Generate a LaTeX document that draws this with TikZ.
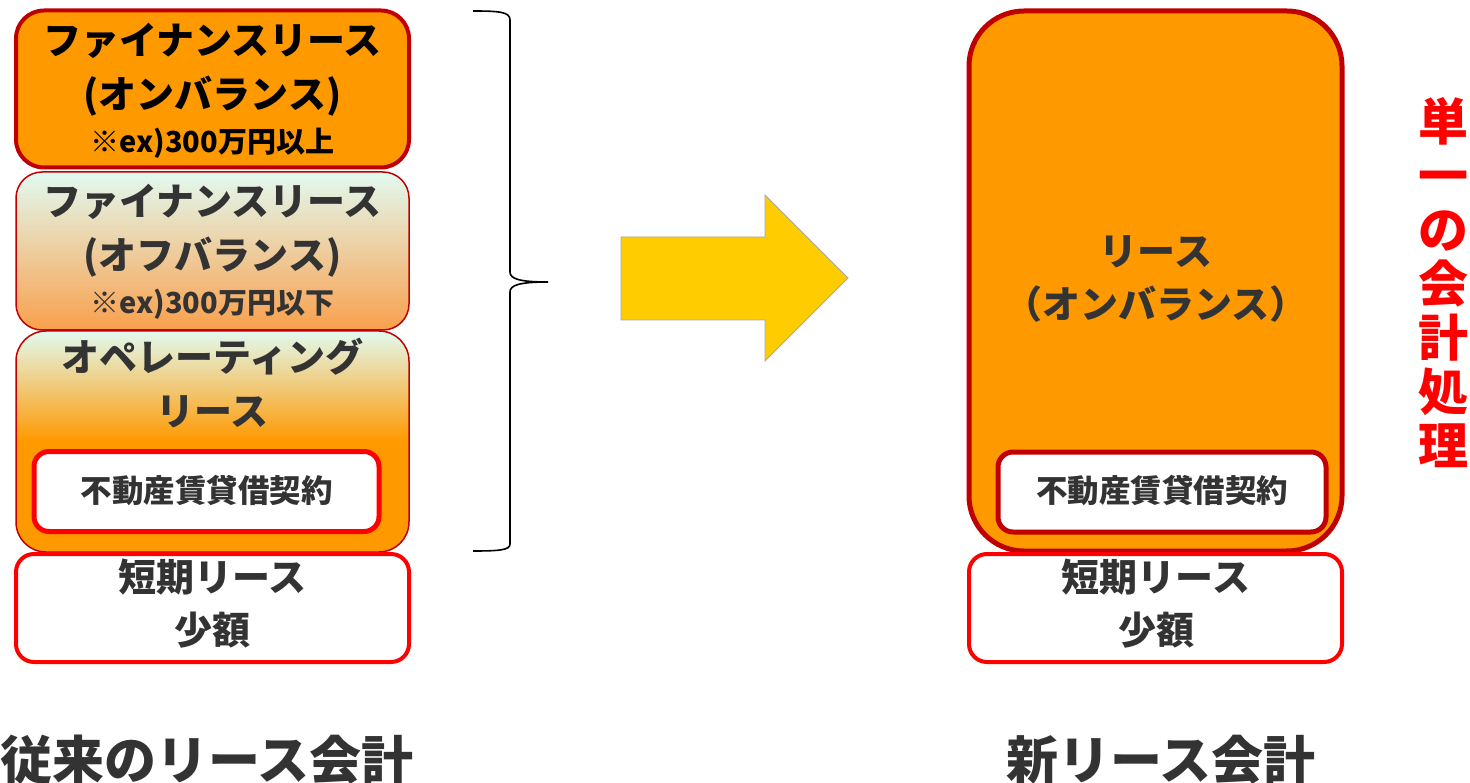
\documentclass[tikz,border=0pt]{standalone}
\usepackage{fontspec}
\setmainfont{Noto Sans CJK JP}
\definecolor{lorange}{HTML}{FF9900}
\definecolor{dred}{HTML}{C00000}
\definecolor{bred}{HTML}{FF0000}
\definecolor{mint}{HTML}{E2FAF0}
\definecolor{peach}{HTML}{F9A04C}
\definecolor{txt}{HTML}{333333}
\definecolor{arrowy}{HTML}{FFCC00}
\begin{document}
\begin{tikzpicture}[x=1pt,y=-1pt,
  box/.style={inner sep=0pt, outer sep=0pt},
  big/.style={anchor=base, inner sep=0pt, text=txt, font=\bfseries\fontsize{38}{38}\selectfont},
  small/.style={anchor=base, inner sep=0pt, text=txt, font=\bfseries\fontsize{29}{29}\selectfont},
  inner/.style={anchor=base, inner sep=0pt, text=txt, font=\bfseries\fontsize{31.5}{31.5}\selectfont},
  title/.style={anchor=base, inner sep=0pt, text=txt, font=\bfseries\fontsize{52}{52}\selectfont}]
\useasboundingbox (0,0) rectangle (1470,783);
% left column
\node[box, draw=dred, line width=4pt, fill=lorange, rounded corners=28pt,
      minimum width=393pt, minimum height=157pt] (fin1) at (212.5,89) {};
\node[box, draw=dred, line width=1.5pt, rounded corners=26pt, top color=mint, bottom color=peach,
      minimum width=393pt, minimum height=158pt] (fin2) at (212.5,251) {};
\node[box, draw=dred, line width=1.5pt, rounded corners=30pt, top color=mint, bottom color=lorange, middle color=lorange,
      minimum width=393pt, minimum height=221pt] (ope) at (212.5,441.5) {};
\node[box, draw=bred, line width=5pt, fill=white, rounded corners=15pt,
      minimum width=345pt, minimum height=80pt] (re1) at (206.5,491.5) {};
\node[box, draw=bred, line width=4pt, fill=white, rounded corners=18pt,
      minimum width=393pt, minimum height=108pt] (short1) at (212.5,608) {};
\node[big, text=black] (t11) at (212.5,55) {ファイナンスリース};
\node[big, text=black] (t12) at (212.5,109) {(オンバランス)};
\node[small, text=black] (t13) at (212.5,153) {※ex)300万円以上};
\node[big] (t21) at (212.5,216) {ファイナンスリース};
\node[big] (t22) at (212.5,270) {(オフバランス)};
\node[small] (t23) at (212.5,314) {※ex)300万円以下};
\node[big] (t31) at (212.5,372) {オペレーティング};
\node[big] (t32) at (212.5,426) {リース};
\node[inner] (t41) at (206.5,502) {不動産賃貸借契約};
\node[big] (t51) at (212.5,591) {短期リース};
\node[big] (t52) at (212.5,644) {少額};
% brace
\draw[line width=1.6pt] (473,11) .. controls (500,11) and (510,12) .. (510,20) -- (510,272)
  .. controls (510,279) and (520,282) .. (548,282)
  .. controls (520,282) and (510,285) .. (510,292) -- (510,544)
  .. controls (510,550) and (500,551) .. (473,551);
% arrow
\draw[fill=arrowy, draw=black!35, line width=0.8pt] (621,237) -- (765,237) -- (765,195) -- (848,278)
  -- (765,361) -- (765,320) -- (621,320) -- cycle;
% right column
\node[box, draw=dred, line width=5pt, fill=lorange, rounded corners=55pt,
      minimum width=373pt, minimum height=540pt] (newl) at (1155.5,281) {};
\node[box, draw=dred, line width=5pt, fill=white, rounded corners=15pt,
      minimum width=328pt, minimum height=80pt] (re2) at (1162,492) {};
\node[box, draw=bred, line width=4pt, fill=white, rounded corners=18pt,
      minimum width=373pt, minimum height=108pt] (short2) at (1155.5,608) {};
\node[big] (r11) at (1156,266) {リース};
\node[big] (r12) at (1156,319) {（オンバランス）};
\node[inner] (r21) at (1162,502) {不動産賃貸借契約};
\node[big] (r31) at (1156,591) {短期リース};
\node[big] (r32) at (1156,644) {少額};
% vertical text
\node[inner sep=0pt, text=bred, align=center, font=\bfseries\fontsize{50}{54}\selectfont] (single) at (1443,283)
  {単\\一\\の\\会\\計\\処\\理};
% bottom titles
\node[title] (oldt) at (207,779) {従来のリース会計};
\node[title] (newt) at (1161,779) {新リース会計};
\end{tikzpicture}
\end{document}
